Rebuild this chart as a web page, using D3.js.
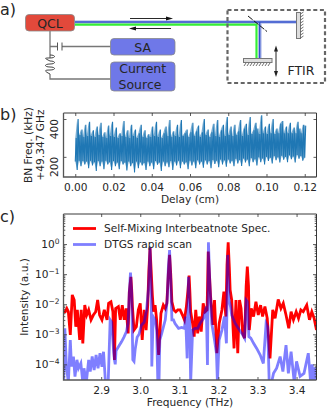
<!DOCTYPE html>
<html>
<head>
<meta charset="utf-8">
<script src="https://cdn.jsdelivr.net/npm/d3@7"></script>
<style>
html, body { margin: 0; padding: 0; background: #fff; }
svg { display: block; }
text { font-family: "DejaVu Sans", sans-serif; fill: #262626; }
</style>
</head>
<body>
<svg id="fig" width="333" height="417"></svg>
<script>
// panel b: beatnote frequency envelope, one value per 0.001 cm of delay
var bnUpper = [
  300,400,315,345,305,370,310,385,310,340,
  305,360,315,380,305,330,300,365,310,385,
  305,355,300,325,310,390,305,340,300,370,
  310,345,300,325,370,305,340,300,320,305,
  360,310,385,305,345,300,325,360,310,395,
  305,335,310,370,305,395,310,325,345,305,
  330,380,310,335,365,305,330,400,315,345,
  305,330,375,310,395,305,340,370,310,410,
  315,360,310,370,315,335,395,310,350,375,
  315,410,320,340,380,350,320,420,325,360,
  320,375,325,400,320,350,325,375,390,325,
  360,325,380,325,355,325,385,350,325,370,365];
var bnLower = [
  175,130,180,150,178,160,175,140,180,155,
  172,125,178,150,175,135,180,160,172,130,
  178,150,170,135,178,160,170,128,175,150,
  168,118,175,140,172,155,168,130,175,150,
  170,135,178,158,170,125,176,150,172,145,
  178,130,175,155,180,140,176,160,172,135,
  180,155,175,140,182,160,176,142,182,160,
  178,140,184,162,180,145,186,160,182,148,
  186,165,180,150,190,165,184,152,192,170,
  186,150,194,172,188,155,198,172,192,160,
  200,178,196,165,204,182,198,170,206,185,
  200,172,208,188,202,170,210,190,204,180,195];
var bnStep = 0.001;
var bnTicksX = [0, 0.02, 0.04, 0.06, 0.08, 0.10, 0.12];
var bnTicksY = [200, 400];

// panel c: log10 of intensity against frequency in THz
var smFreq = [2.804,2.808,2.812,2.816,2.821,2.826,2.831,2.835,2.839,2.845,2.849,2.853,2.858,2.863,2.868,2.874,2.880,2.886,2.891,2.896,2.902,2.908,2.915,2.919,2.925,2.930,2.934,2.937,2.944,2.949,2.954,2.959,2.964,2.969,2.972,2.976,2.978,2.980,2.984,2.990,2.995,3.000,3.005,3.010,3.015,3.019,3.022,3.025,3.028,3.031,3.034,3.038,3.042,3.047,3.053,3.059,3.064,3.068,3.072,3.075,3.078,3.081,3.086,3.091,3.096,3.102,3.108,3.113,3.118,3.122,3.125,3.127,3.129,3.134,3.138,3.142,3.147,3.151,3.156,3.161,3.166,3.171,3.174,3.177,3.180,3.186,3.190,3.196,3.202,3.209,3.214,3.219,3.222,3.225,3.228,3.230,3.234,3.240,3.245,3.2495,3.254,3.258,3.262,3.267,3.271,3.274,3.277,3.279,3.284,3.290,3.296,3.302,3.308,3.313,3.319,3.325,3.332,3.339,3.345,3.353,3.360,3.366,3.373,3.380,3.386,3.392,3.399,3.405,3.411,3.417,3.426,3.433,3.439,3.445,3.451];
var smLog = [-2.25,-2.25,-2.14,-2.25,-3.02,-1.69,-1.86,-2.75,-2.19,-3.19,-2.19,-3.30,-2.03,-2.36,-2.19,-2.52,-2.36,-2.25,-1.86,-2.36,-2.52,-2.19,-2.52,-1.97,-1.92,-2.25,-3.85,-2.14,-2.08,-2.52,-2.03,-2.52,-2.14,-2.97,-1.6,-1.09,-1.5,-2.08,-2.86,-2.75,-2.19,-1.97,-3.19,-2.19,-2.86,-2.05,-0.9,-0.13,-0.9,-1.7,-2.25,-2.03,-2.52,-3.69,-2.3,-2.03,-2.14,-1.97,-0.95,-0.36,-1.0,-1.92,-2.19,-2.25,-2.19,-2.19,-2.36,-2.52,-2.08,-1.55,-1.05,-1.6,-2.25,-2.64,-3.08,-2.19,-2.97,-2.41,-2.91,-1.97,-2.25,-2.19,-0.25,-1.0,-1.75,-2.69,-1.86,-3.63,-2.64,-2.19,-1.58,-2.41,-0.7,0.06,-0.8,-1.53,-1.86,-3.47,-1.86,-3.63,-1.86,-2.14,-2.97,-3.13,-1.4,-0.75,-1.4,-2.86,-2.14,-2.41,-1.92,-2.36,-2.03,-2.41,-2.08,-2.47,-3.80,-2.19,-2.47,-1.84,-2.14,-1.97,-2.36,-2.8,-2.25,-2.52,-2.25,-2.47,-2.19,-2.25,-2.03,-2.52,-2.25,-2.47,-2.86];
var dtgsFreq = [2.804,2.807,2.811,2.816,2.821,2.824,2.829,2.833,2.838,2.842,2.848,2.853,2.856,2.862,2.868,2.872,2.877,2.882,2.887,2.892,2.897,2.902,2.906,2.911,2.918,2.923,2.927,2.932,2.934,2.936,2.938,2.945,2.952,2.958,2.965,2.969,2.972,2.975,2.978,2.981,2.984,2.987,2.992,2.997,3.003,3.010,3.016,3.021,3.025,3.028,3.0296,3.033,3.038,3.042,3.045,3.048,3.050,3.055,3.064,3.069,3.072,3.075,3.078,3.081,3.085,3.089,3.098,3.106,3.113,3.116,3.120,3.1234,3.126,3.129,3.134,3.140,3.147,3.153,3.162,3.169,3.172,3.1745,3.178,3.183,3.190,3.195,3.1975,3.2018,3.209,3.2154,3.2205,3.224,3.227,3.231,3.234,3.243,3.251,3.260,3.267,3.271,3.274,3.278,3.283,3.290,3.298,3.307,3.315,3.322,3.326,3.330,3.336,3.341,3.349,3.358,3.365,3.373,3.379,3.386,3.394,3.400,3.409,3.419,3.430,3.436,3.440,3.443,3.447,3.451];
var dtgsLog = [-4.6,-2.80,-4.07,-4.6,-3.19,-4.07,-3.74,-4.41,-3.85,-4.13,-3.96,-4.6,-4.13,-4.6,-3.85,-4.24,-3.74,-4.19,-3.69,-4.13,-3.63,-4.08,-3.58,-4.6,-4.6,-2.52,-2.6,-3.6,-3.85,-4.0,-3.55,-3.4,-3.25,-3.1,-2.9,-2.6,-1.6,-0.95,-1.6,-3.85,-3.9,-3.5,-3.1,-3.0,-2.7,-2.6,-2.2,-1.5,-0.1,-1.53,-4.07,-2.41,-2.52,-2.86,-4.6,-4.6,-3.19,-2.97,-2.52,-1.86,-0.75,-0.2,-1.2,-2.52,-2.52,-2.64,-2.8,-2.77,-2.8,-2.41,-3.8,-1.09,-2.08,-4.6,-2.86,-2.8,-2.8,-2.64,-2.47,-2.08,-4.02,0.06,-1.3,-2.64,-3.19,-3.63,-4.6,-3.19,-2.86,-2.41,-3.3,-0.36,-1.86,-2.08,-2.36,-2.64,-2.8,-2.97,-3.13,-1.86,-1.91,-3.08,-3.13,-3.3,-3.47,-3.69,-3.97,-2.64,-2.75,-4.6,-4.6,-4.3,-4.13,-3.74,-4.24,-3.36,-4.3,-3.58,-4.6,-3.9,-4.4,-4.3,-3.63,-4.6,-4.0,-4.6,-4.1,-4.6];
var specTicksX = [2.9, 3.0, 3.1, 3.2, 3.3, 3.4];
var specDecades = [-4, -3, -2, -1, 0, 1];
var legendLabels = ["Self-Mixing Interbeatnote Spec.", "DTGS rapid scan"];

var svg = d3.select("#fig");
var spine = "#333";
var fontSize = 10.6;

function frame(g, x, y) {
  var r = x.range(), t = y.range();
  g.append("path").attr("fill", "none").attr("stroke", "#222").attr("stroke-width", 0.9)
    .attr("d", "M" + r[0] + "," + t[1] + "H" + r[1] + "V" + t[0]);
  g.append("path").attr("fill", "none").attr("stroke", "#555").attr("stroke-width", 1.3)
    .attr("d", "M" + r[0] + "," + t[1] + "V" + t[0] + "H" + r[1]);
}

function styleAxis(a) {
  a.select(".domain").remove();
  a.selectAll("line").attr("stroke", spine).attr("stroke-width", 0.8);
  a.selectAll("text").attr("font-size", fontSize).attr("font-family", '"DejaVu Sans"').attr("fill", "#262626");
}

// ---------- panel a: schematic ----------
function drawSchematic() {
  var g = svg.append("g");
  var wire = "#777";
  var box = "#6f78e8";

  // beams
  g.append("path").attr("d", "M75,22H296M260,22V59").attr("fill", "none").attr("stroke", "#b9c4ec").attr("stroke-width", 3.4);
  g.append("path").attr("d", "M75,24.6H256.5V59").attr("fill", "none").attr("stroke", "#35ee35").attr("stroke-width", 2.2);
  g.append("path").attr("d", "M75,22H296M259.6,22V59").attr("fill", "none").attr("stroke", "#3350cc").attr("stroke-width", 1.6);

  // direction arrows
  g.append("path").attr("d", "M130,18.5H170").attr("stroke", "#111").attr("stroke-width", 0.9);
  g.append("path").attr("d", "M173,18.5l-7,-2v4z").attr("fill", "#111");
  g.append("path").attr("d", "M171,28.5H132").attr("stroke", "#111").attr("stroke-width", 0.9);
  g.append("path").attr("d", "M129,28.5l7,-2v4z").attr("fill", "#111");

  // ftir housing
  g.append("rect").attr("x", 227.5).attr("y", 10).attr("width", 97.5).attr("height", 73)
    .attr("fill", "none").attr("stroke", "#666").attr("stroke-width", 2.2).attr("stroke-dasharray", "4,2.6");

  // beam splitter
  g.append("path").attr("d", "M248,16L267,31.5").attr("stroke", "#111").attr("stroke-width", 1).attr("stroke-dasharray", "6,1.5");

  // mirrors
  g.append("rect").attr("x", 296.5).attr("y", 12.5).attr("width", 4).attr("height", 26).attr("fill", "#ddd").attr("stroke", "#777");
  g.append("rect").attr("x", 243.5).attr("y", 58.5).attr("width", 28.5).attr("height", 4).attr("fill", "#ddd").attr("stroke", "#777");
  var hatch = "";
  d3.range(0, 9).forEach(function(i) {
    hatch += "M" + (300.5) + "," + (14 + i * 3) + "l3,-2";
    hatch += "M" + (246 + i * 3) + ",63l-2,3";
  });
  g.append("path").attr("d", hatch).attr("stroke", "#333").attr("stroke-width", 0.7);

  // travel arrow
  g.append("path").attr("d", "M276,50V73").attr("stroke", "#222").attr("stroke-width", 1);
  g.append("path").attr("d", "M276,45.5l-2,6h4zM276,77l-2,-6h4z").attr("fill", "#222");
  g.append("text").attr("x", 301).attr("y", 74.5).attr("text-anchor", "middle").attr("font-size", 12.5).text("FTIR");

  // wiring
  g.append("path").attr("d", "M50,31V58M50,46.5H57.5M62,46.5H110.5M50,74V79H110.5")
    .attr("fill", "none").attr("stroke", wire).attr("stroke-width", 1.3);
  g.append("path").attr("d", "M57.5,42.5V50.5M62,42.5V50.5").attr("stroke", "#555").attr("stroke-width", 1);
  g.append("path").attr("d", "M50,55c6,0 6,3 0,3c-6,0 -6,0 0,3c6,0 6,3 0,3c-6,0 -6,3 0,3c6,0 6,3 0,3c-6,0 -6,1 0,4")
    .attr("fill", "none").attr("stroke", "#444").attr("stroke-width", 1);

  // boxes
  g.append("rect").attr("x", 25.5).attr("y", 14.5).attr("width", 49).attr("height", 16.5).attr("rx", 3.5)
    .attr("fill", "#e2493b").attr("stroke", "#888").attr("stroke-width", 0.8);
  g.append("rect").attr("x", 110.5).attr("y", 38.5).attr("width", 64.5).attr("height", 16.5).attr("rx", 3.5)
    .attr("fill", box).attr("stroke", "#888").attr("stroke-width", 0.8);
  g.append("rect").attr("x", 110.5).attr("y", 62).attr("width", 64.5).attr("height", 29).attr("rx", 3.5)
    .attr("fill", box).attr("stroke", "#888").attr("stroke-width", 0.8);

  g.selectAll("text.lab")
    .data([["QCL", 50, 27.5], ["SA", 142.7, 51.5], ["Current", 142.7, 73], ["Source", 140, 89]])
    .enter().append("text").attr("class", "lab")
    .attr("x", function(d) { return d[1]; })
    .attr("y", function(d) { return d[2]; })
    .attr("text-anchor", "middle").attr("font-size", 12.5).attr("fill", "#14143c")
    .text(function(d) { return d[0]; });
}

// ---------- panel b: beatnote trace ----------
function drawTrace() {
  var x = d3.scaleLinear().domain([-0.00615, 0.12615]).range([63.5, 316.5]);
  var y = d3.scaleLinear().domain([120, 400]).range([172, 119]);
  var yFrame = d3.scaleLinear().range([177, 113]);
  var g = svg.append("g");

  // pale envelope under the trace, the spikes overlap at this scale
  g.append("path").datum(bnUpper)
    .attr("fill", "#1f77b4").attr("fill-opacity", 0.6)
    .attr("d", d3.area()
      .x(function(d, i) { return x(i * bnStep); })
      .y0(function(d, i) { return y(bnLower[i]); })
      .y1(function(d) { return y(d); }));

  var pts = [];
  bnUpper.forEach(function(v, i) {
    pts.push([i * bnStep, bnLower[i]]);
    pts.push([i * bnStep + bnStep / 2, v]);
  });
  g.append("path").datum(pts)
    .attr("fill", "none").attr("stroke", "#1f77b4").attr("stroke-width", 1.1)
    .attr("d", d3.line().x(function(d) { return x(d[0]); }).y(function(d) { return y(d[1]); }));

  var bottom = g.append("g").attr("transform", "translate(0,177)")
    .call(d3.axisBottom(x).tickValues(bnTicksX).tickFormat(d3.format(".2f")).tickSizeInner(-3).tickPadding(6));
  styleAxis(bottom);
  var top = g.append("g").attr("transform", "translate(0,113)")
    .call(d3.axisTop(x).tickValues(bnTicksX).tickFormat("").tickSizeInner(-3));
  styleAxis(top);
  var left = g.append("g").attr("transform", "translate(63.5,0)")
    .call(d3.axisLeft(y).tickValues(bnTicksY).tickFormat("").tickSizeInner(-3));
  styleAxis(left);
  var right = g.append("g").attr("transform", "translate(316.5,0)")
    .call(d3.axisRight(y).tickValues(bnTicksY).tickFormat("").tickSizeInner(-3));
  styleAxis(right);
  frame(g, x, yFrame);

  // rotated tick labels hang below their tick
  bnTicksY.forEach(function(v) {
    g.append("text").attr("transform", "translate(58," + y(v) + ") rotate(-90)")
      .attr("text-anchor", "end").attr("font-size", fontSize).text(v);
  });

  g.append("text").attr("x", 190).attr("y", 203).attr("text-anchor", "middle").attr("font-size", fontSize).text("Delay (cm)");
  g.append("text").attr("transform", "translate(32,145) rotate(-90)").attr("text-anchor", "middle").attr("font-size", fontSize).text("BN Freq. (kHz)");
  g.append("text").attr("transform", "translate(44,145) rotate(-90)").attr("text-anchor", "middle").attr("font-size", fontSize).text("+49.347 GHz");
}

// ---------- panel c: spectra ----------
function drawSpectra() {
  var x = d3.scaleLinear().domain([2.8036, 3.451]).range([63.5, 316.5]);
  var y = d3.scaleLog().domain([Math.pow(10, -4.52), 10]).range([380, 214]);
  var g = svg.append("g");

  svg.append("defs").append("clipPath").attr("id", "specClip").append("rect")
    .attr("x", 63.5).attr("y", 214).attr("width", 253).attr("height", 166);
  var plot = g.append("g").attr("clip-path", "url(#specClip)");

  var line = d3.line()
    .x(function(d) { return x(d[0]); })
    .y(function(d) { return y(Math.pow(10, d[1])); });
  plot.append("path").datum(d3.zip(smFreq, smLog))
    .attr("fill", "none").attr("stroke", "#ff0000").attr("stroke-width", 2.8).attr("d", line);
  plot.append("path").datum(d3.zip(dtgsFreq, dtgsLog))
    .attr("fill", "none").attr("stroke", "#0000ff").attr("stroke-opacity", 0.5).attr("stroke-width", 2.8).attr("d", line);

  var bottom = g.append("g").attr("transform", "translate(0,380)")
    .call(d3.axisBottom(x).tickValues(specTicksX).tickFormat(d3.format(".1f")).tickSizeInner(-3).tickPadding(6));
  styleAxis(bottom);
  var top = g.append("g").attr("transform", "translate(0,214)")
    .call(d3.axisTop(x).tickValues(specTicksX).tickFormat("").tickSizeInner(-3));
  styleAxis(top);

  var majors = specDecades.map(function(e) { return Math.pow(10, e); });
  var minors = [];
  specDecades.forEach(function(e) {
    d3.range(2, 10).forEach(function(m) {
      var v = m * Math.pow(10, e - 1);
      if (v >= y.domain()[0]) minors.push(v);
    });
  });

  [[63.5, d3.axisLeft], [316.5, d3.axisRight]].forEach(function(side) {
    var minor = g.append("g").attr("transform", "translate(" + side[0] + ",0)")
      .call(side[1](y).tickValues(minors).tickFormat("").tickSizeInner(-1.8));
    styleAxis(minor);
    var major = g.append("g").attr("transform", "translate(" + side[0] + ",0)")
      .call(side[1](y).tickValues(majors.slice(0, 5)).tickFormat("").tickSizeInner(-3.5));
    styleAxis(major);
  });

  // log tick labels with a real superscript
  specDecades.slice(0, 5).forEach(function(e) {
    var t = g.append("text").attr("x", 59.5).attr("y", y(Math.pow(10, e)) + 4)
      .attr("text-anchor", "end").attr("font-size", fontSize).text("10");
    t.append("tspan").attr("dy", -4).attr("font-size", 7.5).text(String(e).replace("-", "\u2212"));
  });
  frame(g, x, y);

  g.append("text").attr("x", 190).attr("y", 406).attr("text-anchor", "middle").attr("font-size", fontSize).text("Frequency (THz)");
  g.append("text").attr("transform", "translate(28,297) rotate(-90)").attr("text-anchor", "middle").attr("font-size", fontSize).text("Intensity (a.u.)");

  // legend
  var colors = [["#ff0000", 1], ["#0000ff", 0.5]];
  legendLabels.forEach(function(label, i) {
    var yy = 228.5 + i * 16;
    g.append("line").attr("x1", 73).attr("x2", 96).attr("y1", yy).attr("y2", yy)
      .attr("stroke", colors[i][0]).attr("stroke-opacity", colors[i][1]).attr("stroke-width", 2.8);
    g.append("text").attr("x", 104).attr("y", yy + 3.5).attr("font-size", fontSize).text(label);
  });
}

drawSchematic();
drawTrace();
drawSpectra();

svg.selectAll("text.panel")
  .data([["a)", 15], ["b)", 120], ["c)", 222]])
  .enter().append("text").attr("class", "panel")
  .attr("x", 0).attr("y", function(d) { return d[1]; })
  .attr("font-size", 16).text(function(d) { return d[0]; });
</script>
</body>
</html>
